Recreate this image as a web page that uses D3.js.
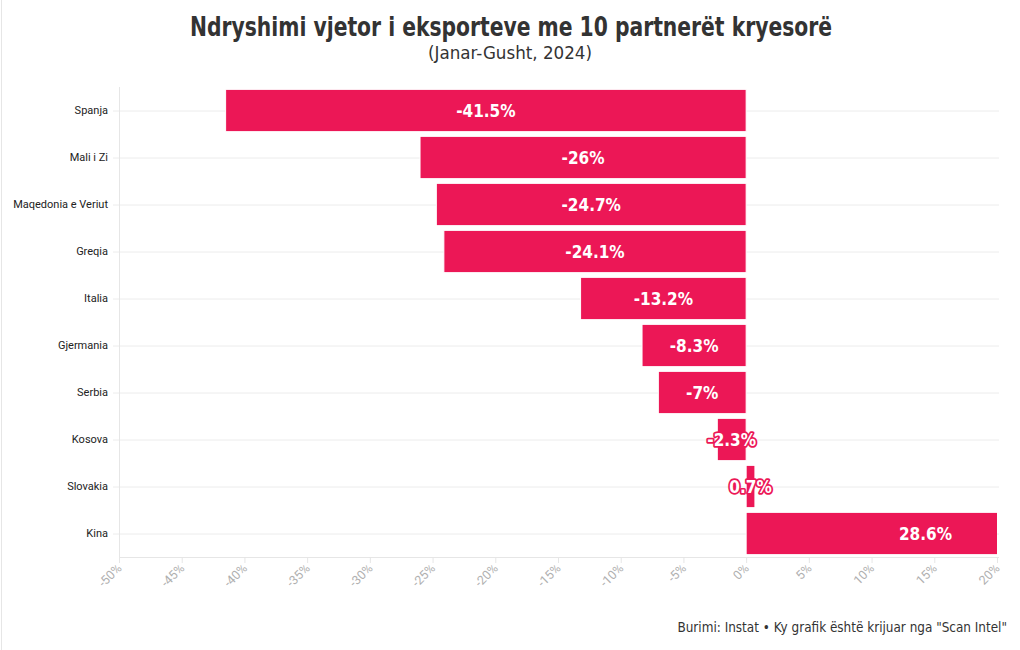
<!DOCTYPE html>
<html><head><meta charset="utf-8">
<script src="https://cdn.jsdelivr.net/npm/d3@7"></script>
<style>
body{margin:0;background:#fff;}
svg{display:block;}
</style></head>
<body>
<svg id="chart" width="1020" height="650"></svg>
<script>
const categories = ["Spanja","Mali i Zi","Maqedonia e Veriut","Greqia","Italia","Gjermania","Serbia","Kosova","Slovakia","Kina"];
const values = [-41.5,-26,-24.7,-24.1,-13.2,-8.3,-7,-2.3,0.7,28.6];
const labels = ["-41.5%","-26%","-24.7%","-24.1%","-13.2%","-8.3%","-7%","-2.3%","0.7%","28.6%"];
const xTicks = [-50,-45,-40,-35,-30,-25,-20,-15,-10,-5,0,5,10,15,20];
const title = "Ndryshimi vjetor i eksporteve me 10 partnerët kryesorë";
const subtitle = "(Janar-Gusht, 2024)";
const source = "Burimi: Instat • Ky grafik është krijuar nga \"Scan Intel\"";

const svg = d3.select("#chart");
const W = 1020, H = 650;
const m = {left:119, right:23, top:87, bottom:93};
const x = d3.scaleLinear().domain([-50,20]).range([m.left, W - m.right]);
const y = d3.scaleBand().domain(categories).range([m.top, H - m.bottom]).paddingInner(0.1).paddingOuter(0.05);
const color = "#ec1756";
const condensed = "'DejaVu Sans Condensed','Roboto',sans-serif";

// page border
svg.append("line").attr("x1",1.5).attr("x2",1.5).attr("y1",0).attr("y2",H).attr("stroke","#e6e6e6");

// title
svg.append("text").attr("x",511).attr("y",36).attr("text-anchor","middle")
  .attr("font-family",condensed).attr("font-weight","bold").attr("font-size",27)
  .attr("fill","#333").attr("textLength",642).attr("lengthAdjust","spacingAndGlyphs").text(title);
svg.append("text").attr("x",510).attr("y",59).attr("text-anchor","middle")
  .attr("font-family",condensed).attr("font-size",17)
  .attr("fill","#333").attr("textLength",164).attr("lengthAdjust","spacingAndGlyphs").text(subtitle);

// gridlines
const g = svg.append("g");
g.selectAll(".grid").data(categories).join("line")
  .attr("x1",m.left - 6).attr("x2",W - m.right + 2)
  .attr("y1",d=>y(d)+y.bandwidth()/2+0.5).attr("y2",d=>y(d)+y.bandwidth()/2+0.5)
  .attr("stroke","#ececec");
// y axis line
g.append("line").attr("x1",m.left+0.5).attr("x2",m.left+0.5).attr("y1",m.top).attr("y2",H-m.bottom)
  .attr("stroke","#e6e6e6");
// x axis line
g.append("line").attr("x1",m.left).attr("x2",W-m.right+2).attr("y1",H-m.bottom+0.5).attr("y2",H-m.bottom+0.5)
  .attr("stroke","#e6e6e6");

// x axis
const xAxis = svg.append("g").attr("transform",`translate(0,${H-m.bottom})`)
  .call(d3.axisBottom(x).tickValues(xTicks).tickFormat(d=>d+"%").tickSize(6));
xAxis.select(".domain").remove();
xAxis.selectAll(".tick line").attr("stroke","#e6e6e6");
xAxis.selectAll(".tick text")
  .attr("font-family","Roboto, sans-serif").attr("font-size",12.5).attr("fill","#b0b0b0")
  .attr("text-anchor","end").attr("dy",0).attr("y",0)
  .attr("transform","translate(3,12) rotate(-45)");

// y axis labels
const yAxis = svg.append("g").attr("transform",`translate(${m.left},0)`)
  .call(d3.axisLeft(y).tickSize(0).tickPadding(11));
yAxis.select(".domain").remove();
yAxis.selectAll(".tick text").attr("font-family","Roboto, sans-serif").attr("font-size",11).attr("fill","#222");

// bars (clipped to plot)
svg.append("clipPath").attr("id","plotclip").append("rect")
  .attr("x",m.left).attr("y",m.top).attr("width",W-m.right-m.left).attr("height",H-m.bottom-m.top);
const data = categories.map((c,i)=>({c, v:values[i], l:labels[i]}));
svg.append("g").attr("clip-path","url(#plotclip)").selectAll("rect").data(data).join("rect")
  .attr("x",d=>x(Math.min(0,d.v)))
  .attr("width",d=>Math.abs(x(d.v)-x(0)))
  .attr("y",d=>y(d.c)).attr("height",y.bandwidth())
  .attr("fill",color).attr("stroke","#fff").attr("stroke-width",1);

// value labels
svg.append("g").selectAll("text").data(data).join("text")
  .attr("x",d=>(x(d.v)+x(0))/2)
  .attr("y",d=>y(d.c)+y.bandwidth()/2)
  .attr("dy","0.36em").attr("text-anchor","middle")
  .attr("font-family",condensed).attr("font-weight","bold").attr("font-size",17)
  .attr("fill","#fff").attr("stroke",color).attr("stroke-width",3.5).attr("paint-order","stroke")
  .attr("stroke-linejoin","round")
  .text(d=>d.l);

// source
svg.append("text").attr("x",1007).attr("y",632).attr("text-anchor","end")
  .attr("font-family",condensed).attr("font-size",13.4).attr("fill","#333").text(source);
</script>
</body></html>
